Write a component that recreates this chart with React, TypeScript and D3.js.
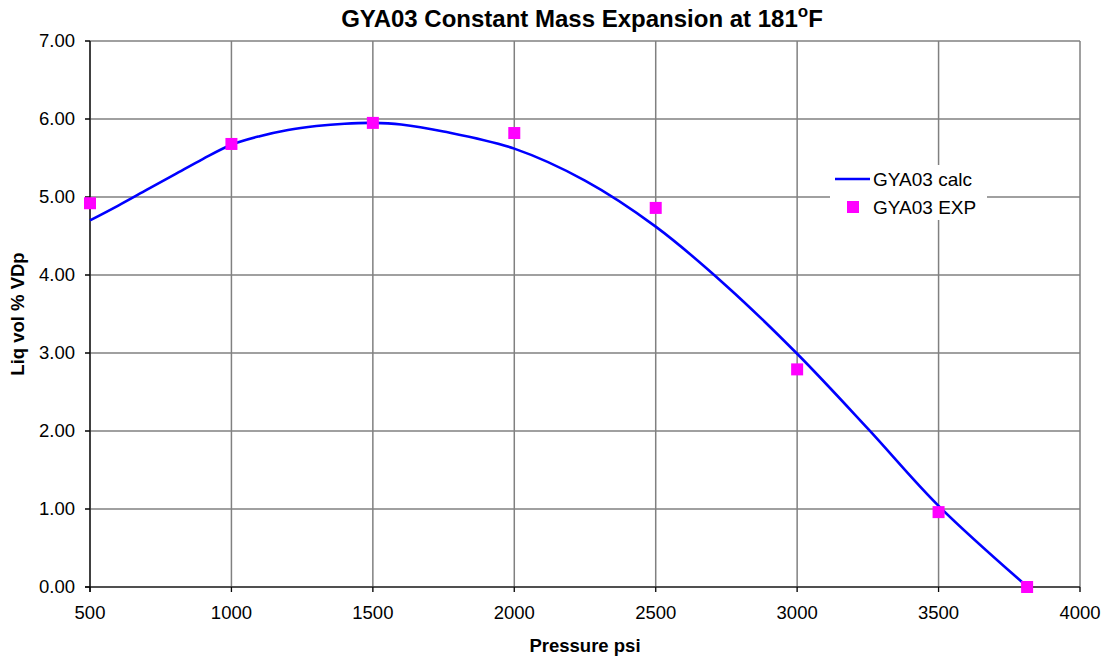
import React from "react";
import * as d3 from "d3";

const calcPressure = [500, 600, 700, 800, 900, 1000, 1100, 1200, 1300, 1400, 1500, 1600, 1750, 2000, 2250, 2500, 2750, 3000, 3250, 3500, 3815];
const calcValue = [4.70, 4.89, 5.09, 5.29, 5.49, 5.67, 5.78, 5.86, 5.91, 5.94, 5.95, 5.93, 5.84, 5.62, 5.21, 4.62, 3.86, 2.99, 2.03, 1.04, 0.0];

const expPressure = [500, 1000, 1500, 2000, 2500, 3000, 3500, 3813];
const expValue = [4.92, 5.68, 5.95, 5.82, 4.86, 2.79, 0.96, 0.0];

const xTicks = [500, 1000, 1500, 2000, 2500, 3000, 3500, 4000];
const yTicks = [0, 1, 2, 3, 4, 5, 6, 7];

const W = 1105;
const H = 661;
const M = { left: 90, right: 1080, top: 41, bottom: 587 };
const FONT = "Arial, 'Liberation Sans', Helvetica, sans-serif";

export default function App() {
  const x = d3.scaleLinear().domain([500, 4000]).range([M.left, M.right]);
  const y = d3.scaleLinear().domain([0, 7]).range([M.bottom, M.top]);

  const calcPts: [number, number][] = calcPressure.map((p, i) => [p, calcValue[i]]);
  const line = d3
    .line<[number, number]>()
    .x((d) => x(d[0]))
    .y((d) => y(d[1]))
    .curve(d3.curveCatmullRom.alpha(0.5));

  const sq = 12;
  const fs = 18.5;

  return (
    <svg
      width={W}
      height={H}
      style={{ position: "absolute", left: 0, top: 0, background: "#fff" }}
      fontFamily={FONT}
    >
      <rect x={0} y={0} width={W} height={H} fill="#fff" />
      {/* grid */}
      {xTicks.map((t) => (
        <line key={"gx" + t} x1={x(t)} x2={x(t)} y1={M.top} y2={M.bottom + 5} stroke="#808080" strokeWidth={1.5} />
      ))}
      {yTicks.map((t) => (
        <line key={"gy" + t} x1={M.left - 5} x2={M.right} y1={y(t)} y2={y(t)} stroke="#808080" strokeWidth={1.5} />
      ))}
      {/* axes */}
      <line x1={M.left} x2={M.left} y1={M.top} y2={M.bottom + 5} stroke="#000" strokeWidth={1.2} />
      <line x1={M.left - 5} x2={M.right} y1={M.bottom} y2={M.bottom} stroke="#000" strokeWidth={1.2} />
      {yTicks.map((t) => (
        <line key={"ty" + t} x1={M.left - 5} x2={M.left} y1={y(t)} y2={y(t)} stroke="#000" strokeWidth={1.2} />
      ))}
      {xTicks.map((t) => (
        <line key={"tx" + t} x1={x(t)} x2={x(t)} y1={M.bottom} y2={M.bottom + 5} stroke="#000" strokeWidth={1} />
      ))}
      {/* tick labels */}
      {yTicks.map((t) => (
        <text key={"ly" + t} x={M.left - 15} y={y(t)} dy="0.35em" textAnchor="end" fontSize={fs} fill="#000">
          {t.toFixed(2)}
        </text>
      ))}
      {xTicks.map((t) => (
        <text key={"lx" + t} x={x(t)} y={M.bottom + 32} textAnchor="middle" fontSize={fs} fill="#000">
          {t}
        </text>
      ))}
      {/* legend background */}
      <rect x={830} y={165} width={157} height={55} fill="#fff" />
      {/* calc line */}
      <path d={line(calcPts) || ""} fill="none" stroke="#0000FF" strokeWidth={2.6} />
      {/* exp squares */}
      {expPressure.map((p, i) => (
        <rect
          key={"e" + i}
          x={x(p) - sq / 2}
          y={y(expValue[i]) - sq / 2}
          width={sq}
          height={sq}
          fill="#FF00FF"
        />
      ))}
      {/* legend */}
      <line x1={835} x2={870} y1={179} y2={179} stroke="#0000FF" strokeWidth={2.6} />
      <text x={873} y={179} dy="0.35em" fontSize={19} fill="#000">GYA03 calc</text>
      <rect x={847} y={201} width={12} height={12} fill="#FF00FF" />
      <text x={873} y={207} dy="0.35em" fontSize={19} fill="#000">GYA03 EXP</text>
      {/* title */}
      <text x={582} y={27} textAnchor="middle" fontSize={24} fontWeight="bold" fill="#000">
        GYA03 Constant Mass Expansion at 181
        <tspan fontSize={17} dy={-10}>o</tspan>
        <tspan dy={10}>F</tspan>
      </text>
      {/* axis titles */}
      <text x={585} y={652} textAnchor="middle" fontSize={fs} fontWeight="bold" fill="#000">
        Pressure psi
      </text>
      <text
        transform={`translate(24, ${(M.top + M.bottom) / 2}) rotate(-90)`}
        textAnchor="middle"
        fontSize={fs}
        fontWeight="bold"
        fill="#000"
      >
        Liq vol % VDp
      </text>
    </svg>
  );
}
